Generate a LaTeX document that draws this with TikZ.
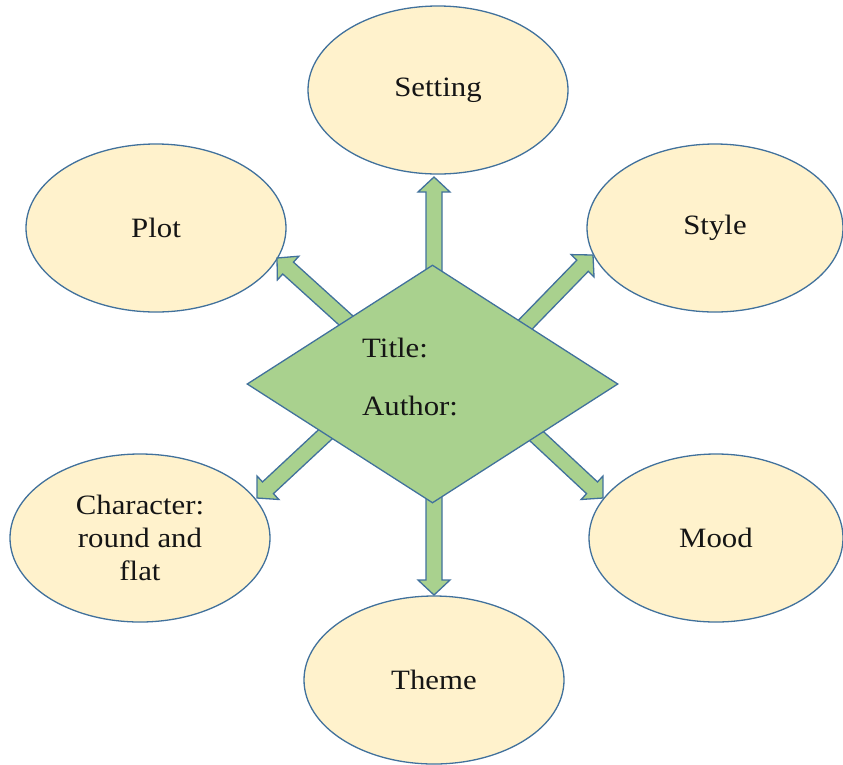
\documentclass[tikz,border=0pt]{standalone}
\usepackage{fontspec}
\setmainfont{Liberation Serif}[FakeStretch=1.1]
\usetikzlibrary{shapes.geometric,calc}

\definecolor{bubblefill}{HTML}{FFF2CC}
\definecolor{edgeblue}{HTML}{41719C}
\definecolor{leafgreen}{HTML}{A9D18E}
\definecolor{inkblack}{HTML}{151515}

\tikzset{
  bubble/.style={ellipse, draw=edgeblue, fill=bubblefill, line width=1.3pt,
    minimum width=260pt, minimum height=168pt, inner sep=0pt,
    align=center, text=inkblack,
    font=\fontsize{28}{33}\selectfont},
  centre/.style={diamond, draw=edgeblue, fill=leafgreen, line width=1.3pt,
    minimum width=371pt, minimum height=238pt, inner sep=0pt},
  centretext/.style={anchor=base west, inner sep=0pt, text=inkblack,
    font=\fontsize{28}{33}\selectfont},
  fatarrow/.style={draw=edgeblue, fill=leafgreen, line width=1.3pt, line join=miter}
}

% broad block arrow: shaft half-width 8pt, head half-width 16pt, head length 15pt
\newcommand\blockarrow[2]{%
  \path ($(#2)!15pt!(#1)$) coordinate (hb);
  \filldraw[fatarrow]
    ($(#1)!8pt!90:(#2)$) -- ($(hb)!8pt!-90:(#1)$) -- ($(hb)!16pt!-90:(#1)$)
    -- (#2) -- ($(hb)!16pt!90:(#1)$) -- ($(hb)!8pt!90:(#1)$)
    -- ($(#1)!8pt!-90:(#2)$) -- cycle;
}

\begin{document}
\begin{tikzpicture}[x=1pt, y=-1pt]
  \useasboundingbox (0,0) rectangle (843,764);

  % outer topics
  \node[bubble] (setting)   at (438,90)  {Setting};
  \node[bubble] (plot)      at (156,228) {Plot};
  \node[bubble, minimum width=256pt] (style) at (715,228) {Style};
  \node[bubble] (character) at (140,538) {Character:\\round and\\flat};
  \node[bubble, minimum width=254pt] (mood) at (716,538) {Mood};
  \node[bubble] (theme)     at (434,680) {Theme};

  % arrow ends: bases inside the diamond, tips on the bubbles
  \coordinate (bUp)    at (434,275);  \coordinate (tUp)    at (434,177);
  \coordinate (bDown)  at (434,495);  \coordinate (tDown)  at (434,595);
  \coordinate (bPlot)  at (351,325);  \coordinate (tPlot)  at (277,258);
  \coordinate (bStyle) at (523,327);  \coordinate (tStyle) at (593,255);
  \coordinate (bChar)  at (330,430);  \coordinate (tChar)  at (257,498);
  \coordinate (bMood)  at (530,430);  \coordinate (tMood)  at (603,498);

  \blockarrow{bUp}{tUp}
  \blockarrow{bDown}{tDown}
  \blockarrow{bPlot}{tPlot}
  \blockarrow{bStyle}{tStyle}
  \blockarrow{bChar}{tChar}
  \blockarrow{bMood}{tMood}

  % central diamond
  \node[centre] (hub) at (432.5,384) {};
  \node[centretext] (title)  at (362,357) {Title:};
  \node[centretext] (author) at (362,415) {Author:};
\end{tikzpicture}
\end{document}
